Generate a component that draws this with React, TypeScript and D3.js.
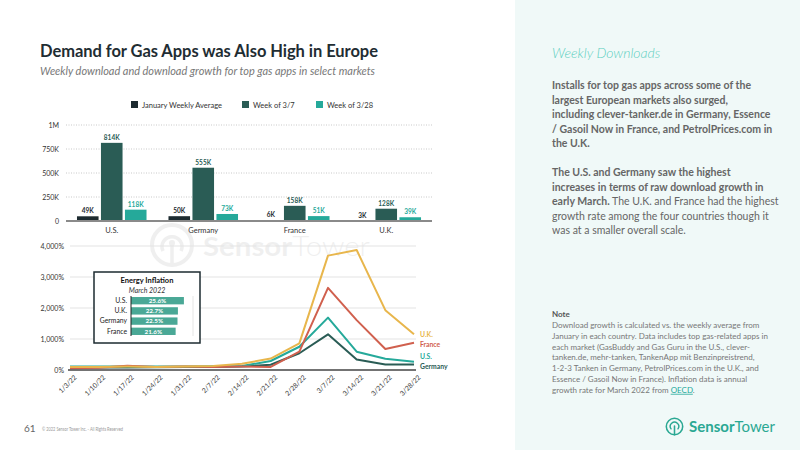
import React from "react";
import * as d3 from "d3";

// weekly downloads (thousands)
const countries = ["U.S.", "Germany", "France", "U.K."];
const janAverage = [49, 50, 6, 3];
const weekOf37 = [814, 555, 158, 128];
const weekOf328 = [118, 73, 51, 39];
const barSeriesNames = ["January Weekly Average", "Week of 3/7", "Week of 3/28"];
const barTicks = [0, 250, 500, 750, 1000];

// download growth vs January weekly average (%)
const weeks = [
  "1/3/22", "1/10/22", "1/17/22", "1/24/22", "1/31/22", "2/7/22", "2/14/22",
  "2/21/22", "2/28/22", "3/7/22", "3/14/22", "3/21/22", "3/28/22",
];
const growthGermany = [80, 80, 80, 90, 100, 100, 110, 170, 540, 1150, 340, 180, 180];
const growthUS = [110, 110, 110, 110, 110, 120, 130, 290, 750, 1690, 590, 360, 270];
const growthFrance = [60, 70, 140, 100, 110, 100, 110, 100, 590, 2650, 1610, 680, 880];
const growthUK = [100, 100, 110, 100, 110, 130, 200, 370, 860, 3690, 3870, 1930, 1150];
const growthTicks = [0, 1000, 2000, 3000, 4000];

// energy inflation, March 2022 (%)
const inflationCountries = ["U.S.", "U.K.", "Germany", "France"];
const inflationValues = [25.6, 22.7, 22.5, 21.6];

const FONT = "Lato, 'Open Sans', sans-serif";
const DARK = "#1d2b30";
const GREEN = "#2a5c55";
const TEAL = "#25a99a";
const YELLOW = "#e8b64c";
const RED = "#d0604e";

const barColors = [DARK, GREEN, TEAL];

const paragraphOne = [
  "Installs for top gas apps across some of the",
  "largest European markets also surged,",
  "including clever-tanker.de in Germany, Essence",
  "/ Gasoil Now in France, and PetrolPrices.com in",
  "the U.K.",
];

const noteLines = [
  "Download growth is calculated vs. the weekly average from",
  "January in each country. Data includes top gas-related apps in",
  "each market (GasBuddy and Gas Guru in the U.S., clever-",
  "tanken.de, mehr-tanken, TankenApp mit Benzinpreistrend,",
  "1-2-3 Tanken in Germany, PetrolPrices.com in the U.K., and",
  "Essence / Gasoil Now in France). Inflation data is annual",
];

const fmtK = (v: number) => `${v}K`;
const fmtAxisK = (v: number) => (v === 0 ? "0" : v >= 1000 ? `${v / 1000}M` : `${v}K`);
const fmtPct = (v: number) => `${d3.format(",")(v)}%`;

function BarChart() {
  const x0 = d3.scaleBand().domain(countries).range([66, 432]).paddingInner(0.24).paddingOuter(0.12);
  const x1 = d3.scaleBand().domain(barSeriesNames).range([0, x0.bandwidth()]).paddingInner(0.1);
  const y = d3.scaleLinear().domain([0, 1000]).range([221, 125]);
  const values = [janAverage, weekOf37, weekOf328];
  const legendX = [131, 242, 316];

  return (
    <g fontFamily={FONT}>
      {barSeriesNames.map((name, i) => (
        <g key={name} transform={`translate(${legendX[i]},101)`}>
          <rect width={7} height={7} fill={barColors[i]} />
          <text x={11} y={6.5} fontSize={7.5} fill="#333">{name}</text>
        </g>
      ))}
      {barTicks.map((t) => (
        <g key={t}>
          {t > 0 && (
            <line x1={66} x2={432} y1={y(t)} y2={y(t)} stroke="#bbb" strokeWidth={0.8} strokeDasharray="1 1.5" />
          )}
          <text x={59} y={y(t) + 2.5} textAnchor="end" fontSize={7} fill="#333">{fmtAxisK(t)}</text>
        </g>
      ))}
      {countries.map((c, ci) => (
        <g key={c} transform={`translate(${x0(c)},0)`}>
          {barSeriesNames.map((s, si) => {
            const v = values[si][ci];
            const bx = x1(s) as number;
            return (
              <g key={s}>
                <rect x={bx} width={x1.bandwidth()} y={y(v)} height={y(0) - y(v)} fill={barColors[si]} />
                <text
                  x={bx + x1.bandwidth() / 2}
                  y={y(v) - 3}
                  textAnchor="middle"
                  fontSize={6.5}
                  fontWeight={700}
                  fill={barColors[si]}
                >
                  {fmtK(v)}
                </text>
              </g>
            );
          })}
          <text x={x0.bandwidth() / 2} y={233} textAnchor="middle" fontSize={7.5} fill="#333">{c}</text>
        </g>
      ))}
      <line x1={66} x2={432} y1={y(0)} y2={y(0)} stroke="#8a8a8a" strokeWidth={2} />
    </g>
  );
}

function Watermark() {
  return (
    <g opacity={0.06} fontFamily={FONT}>
      <circle cx={172} cy={245} r={20} fill="none" stroke="#000" strokeWidth={4} />
      <path d="M163 251 A10 10 0 1 1 181 251" fill="none" stroke="#000" strokeWidth={3.5} />
      <line x1={172} x2={172} y1={245} y2={265} stroke="#000" strokeWidth={3.5} />
      <circle cx={172} cy={243} r={3} fill="#000" />
      <text x={203} y={256} fontSize={27} textLength={167} lengthAdjust="spacingAndGlyphs">
        <tspan fontWeight={700}>Sensor</tspan>
        <tspan fontWeight={300}>Tower</tspan>
      </text>
    </g>
  );
}

function GrowthChart() {
  const x = d3.scalePoint().domain(weeks).range([70, 414]);
  const y = d3.scaleLinear().domain([0, 4000]).range([370, 246]);
  const line = d3
    .line<number>()
    .x((_, i) => x(weeks[i]) as number)
    .y((d) => y(d));
  const series = [
    { name: "Germany", values: growthGermany, color: GREEN, labelY: 369 },
    { name: "U.S.", values: growthUS, color: TEAL, labelY: 359 },
    { name: "France", values: growthFrance, color: RED, labelY: 347 },
    { name: "U.K.", values: growthUK, color: YELLOW, labelY: 337 },
  ];

  return (
    <g fontFamily={FONT}>
      {growthTicks.map((t) => (
        <g key={t}>
          {t > 0 && <line x1={70} x2={416} y1={y(t)} y2={y(t)} stroke="#e3e3e3" strokeWidth={1} />}
          <text x={64} y={y(t) + 2.5} textAnchor="end" fontSize={7} fill="#333">{fmtPct(t)}</text>
        </g>
      ))}
      {series.map((s) => (
        <path key={s.name} d={line(s.values) as string} fill="none" stroke={s.color} strokeWidth={2} strokeLinejoin="round" />
      ))}
      <line x1={68} x2={416} y1={y(0)} y2={y(0)} stroke="#444" strokeWidth={1.5} />
      {series.map((s) => (
        <text key={s.name} x={420} y={s.labelY} fontSize={6.8} fontWeight={700} fill={s.color}>{s.name}</text>
      ))}
      {weeks.map((w) => (
        <text
          key={w}
          transform={`translate(${(x(w) as number) + 7},378) rotate(-45)`}
          textAnchor="end"
          fontSize={6.8}
          fill="#333"
        >
          {w}
        </text>
      ))}
    </g>
  );
}

function InflationInset() {
  const x = d3.scaleLinear().domain([0, 30]).range([131, 193]);
  const y = d3.scaleBand().domain(inflationCountries).range([296, 336]).paddingInner(0.28).paddingOuter(0.1);
  return (
    <g fontFamily={FONT}>
      <rect x={94} y={272} width={106} height={71} fill="#fff" stroke={DARK} strokeWidth={1.5} />
      <text x={147} y={283} textAnchor="middle" fontSize={7.5} fontWeight={700} fill="#111">Energy Inflation</text>
      <text x={147} y={293} textAnchor="middle" fontSize={7} fontStyle="italic" fill="#333">March 2022</text>
      <line x1={x(30)} x2={x(30)} y1={296} y2={336} stroke="#e5e5e5" />
      {inflationCountries.map((c, i) => (
        <g key={c}>
          <rect x={x(0)} y={y(c)} width={x(inflationValues[i]) - x(0)} height={y.bandwidth()} fill="#4aa896" />
          <text
            x={(x(0) + x(inflationValues[i])) / 2}
            y={(y(c) as number) + y.bandwidth() / 2 + 2.3}
            textAnchor="middle"
            fontSize={6.3}
            fontWeight={700}
            fill="#fff"
          >
            {`${inflationValues[i]}%`}
          </text>
          <text x={127} y={(y(c) as number) + y.bandwidth() / 2 + 2.3} textAnchor="end" fontSize={6.8} fill="#222">{c}</text>
        </g>
      ))}
      <line x1={x(0)} x2={x(0)} y1={296} y2={336} stroke="#222" strokeWidth={1} />
    </g>
  );
}

function LogoMark({ cx, cy, r, color }: { cx: number; cy: number; r: number; color: string }) {
  const k = r / 8.5;
  return (
    <g stroke={color} fill="none" strokeLinecap="round">
      <circle cx={cx} cy={cy} r={r} strokeWidth={1.6 * k} />
      <path
        d={`M${cx - 3.6 * k} ${cy + 2.4 * k} A${4.4 * k} ${4.4 * k} 0 1 1 ${cx + 3.6 * k} ${cy + 2.4 * k}`}
        strokeWidth={1.5 * k}
      />
      <line x1={cx} x2={cx} y1={cy - 0.5 * k} y2={cy + r} strokeWidth={1.6 * k} />
    </g>
  );
}

function SidePanel() {
  return (
    <g fontFamily={FONT}>
      <rect x={515} y={0} width={285} height={450} fill="#f0f9f8" />
      <text x={552} y={58} fontSize={14} fontStyle="italic" fontWeight={300} fill="#5ccfc0">Weekly Downloads</text>
      <g fontSize={10.5} fill="#666" fontWeight={700}>
        {paragraphOne.map((l, i) => (
          <text key={i} x={552} y={89 + i * 14.5}>{l}</text>
        ))}
        <text x={552} y={176}>The U.S. and Germany saw the highest</text>
        <text x={552} y={190.5}>increases in terms of raw download growth in</text>
        <text x={552} y={205}>
          early March.<tspan fontWeight={400}> The U.K. and France had the highest</tspan>
        </text>
        <text x={552} y={219.5} fontWeight={400}>growth rate among the four countries though it</text>
        <text x={552} y={234} fontWeight={400}>was at a smaller overall scale.</text>
      </g>
      <g fontSize={8} fill="#777">
        <text x={552} y={317} fontWeight={700} fill="#555">Note</text>
        {noteLines.map((l, i) => (
          <text key={i} x={552} y={328 + i * 10.8}>{l}</text>
        ))}
        <text x={552} y={328 + 6 * 10.8}>
          growth rate for March 2022 from <tspan fill={TEAL} textDecoration="underline">OECD</tspan>.
        </text>
      </g>
      <LogoMark cx={674.5} cy={426.5} r={8.2} color="#2aa893" />
      <text x={689} y={431.5} fontSize={15} fill="#2aa893">
        <tspan fontWeight={700}>Sensor</tspan>
        <tspan fontWeight={400}>Tower</tspan>
      </text>
    </g>
  );
}

export default function App() {
  return (
    <svg width={800} height={450} style={{ position: "absolute", left: 0, top: 0, background: "#fff" }}>
      <rect width={800} height={450} fill="#fff" />
      <text x={40} y={57} fontFamily={FONT} fontSize={16.5} fontWeight={700} fill="#1f2d33" textLength={338}>
        Demand for Gas Apps was Also High in Europe
      </text>
      <text x={40} y={75} fontFamily={FONT} fontSize={11.5} fontStyle="italic" fill="#777" textLength={335} lengthAdjust="spacingAndGlyphs">
        Weekly download and download growth for top gas apps in select markets
      </text>
      <Watermark />
      <BarChart />
      <GrowthChart />
      <InflationInset />
      <SidePanel />
      <text x={24} y={432} fontFamily={FONT} fontSize={10} fill="#666">61</text>
      <text x={42} y={431} fontFamily={FONT} fontSize={5.5} fill="#999" textLength={81} lengthAdjust="spacingAndGlyphs">
        © 2022 Sensor Tower Inc. - All Rights Reserved
      </text>
    </svg>
  );
}
